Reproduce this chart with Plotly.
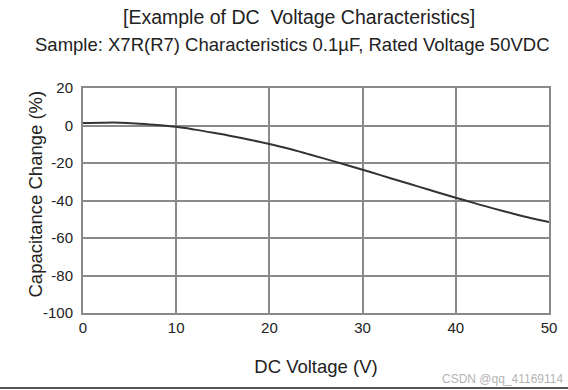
import plotly.graph_objects as go

voltage = [0, 2, 4, 6, 8, 10, 12, 14, 16, 18, 20, 22, 24, 26, 28, 30, 32, 34, 36, 38, 40, 42, 44, 46, 48, 50]
cap_change = [1.3, 1.5, 1.5, 1.0, 0.3, -0.7, -2.2, -3.9, -5.7, -7.7, -9.9, -12.3, -15.0, -17.8, -20.7, -23.6, -26.6, -29.6, -32.6, -35.6, -38.5, -41.4, -44.2, -46.8, -49.3, -51.5]

x_ticks = [0, 10, 20, 30, 40, 50]
y_ticks = [20, 0, -20, -40, -60, -80, -100]

fig = go.Figure()
fig.add_trace(go.Scatter(x=voltage, y=cap_change, mode="lines",
                         line=dict(color="#333333", width=2, shape="spline"),
                         showlegend=False, hoverinfo="skip"))

font_fam = "Liberation Sans, Arial, sans-serif"
txt = "#222222"
PW, PH = 466, 225  # plot area size in px
fig.update_layout(
    width=568, height=390,
    margin=dict(l=83, r=19, t=88, b=77),
    paper_bgcolor="white", plot_bgcolor="white",
    font=dict(family=font_fam, color=txt),
    showlegend=False,
)
fig.update_xaxes(range=[0, 50], tickvals=x_ticks, ticktext=[str(v) for v in x_ticks],
                 showgrid=True, gridcolor="#8a8a8a", gridwidth=2,
                 showline=True, linecolor="#8a8a8a", linewidth=2, mirror=True,
                 zeroline=False, ticks="", tickfont=dict(size=15, color=txt),
                 title=dict(text="DC Voltage (V)", font=dict(size=18.5, color=txt), standoff=25))
fig.update_yaxes(range=[-100, 20], tickvals=y_ticks, ticktext=[str(v) for v in y_ticks],
                 showgrid=True, gridcolor="#8a8a8a", gridwidth=2,
                 showline=True, linecolor="#8a8a8a", linewidth=2, mirror=True,
                 zeroline=False, ticks="", ticklabelstandoff=5, tickfont=dict(size=15, color=txt))

fig.add_annotation(text="Capacitance Change (%)", xref="paper", yref="paper",
                   x=0, y=0.5, xshift=-48, yshift=6, textangle=-90,
                   xanchor="center", yanchor="middle", showarrow=False,
                   font=dict(size=18.5, color=txt))
fig.add_annotation(text="[Example of DC  Voltage Characteristics]", xref="paper", yref="paper",
                   x=(298.5 - 83) / PW, y=1, yshift=71, xanchor="center", yanchor="middle",
                   showarrow=False, font=dict(size=19.5, color=txt))
fig.add_annotation(text="Sample: X7R(R7) Characteristics 0.1µF, Rated Voltage 50VDC", xref="paper", yref="paper",
                   x=(292.5 - 83) / PW, y=1, yshift=44, xanchor="center", yanchor="middle",
                   showarrow=False, font=dict(size=18.5, color=txt))
fig.add_annotation(text="CSDN @qq_41169114", xref="paper", yref="paper",
                   x=1, y=0, xshift=16, yshift=-66, xanchor="right", yanchor="middle",
                   showarrow=False, font=dict(size=12, color="#b4b4b4"))
fig.add_shape(type="rect", xref="paper", yref="paper", x0=-83 / PW, x1=1 + 19 / PW,
              y0=-76 / PH, y1=-74 / PH, line=dict(width=0), fillcolor="#555555")

fig.write_html("out.html", config={"displayModeBar": False},
               post_script="document.body.style.margin='0px';")
